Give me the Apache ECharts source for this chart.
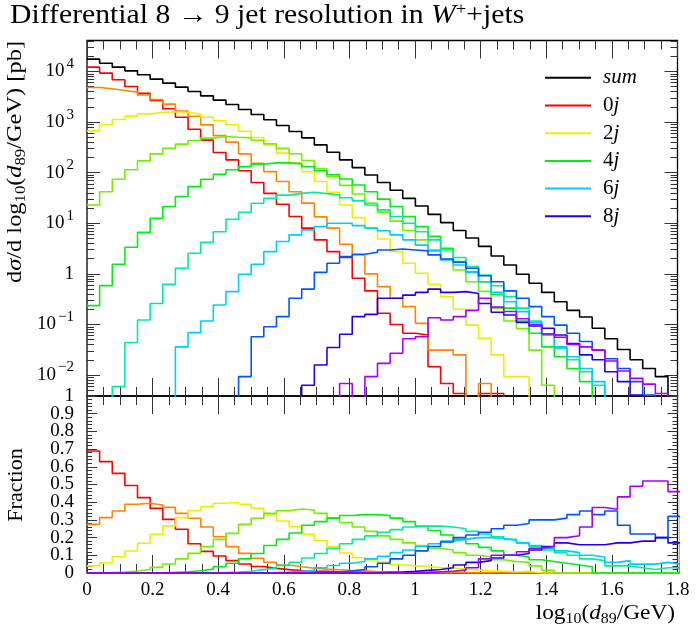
<!DOCTYPE html>
<html>
<head>
<meta charset="utf-8">
<script src="https://cdn.jsdelivr.net/npm/echarts@6/dist/echarts.min.js"></script>
<style>
  html, body { margin: 0; padding: 0; background: #fff; }
  #chart { width: 700px; height: 632px; }
</style>
</head>
<body>
<div id="chart"></div>
<script>
// bin edges in log10(d89/GeV)
const binEdges = [0, 0.0385, 0.077, 0.1155, 0.154, 0.1925, 0.231, 0.2695, 0.308, 0.3465,
  0.385, 0.4235, 0.462, 0.5005, 0.539, 0.5775, 0.616, 0.6545, 0.693, 0.7315,
  0.77, 0.8085, 0.847, 0.8855, 0.924, 0.9625, 1.001, 1.0395, 1.078, 1.1165,
  1.155, 1.1935, 1.232, 1.2705, 1.309, 1.3475, 1.386, 1.4245, 1.463, 1.5015,
  1.54, 1.5785, 1.617, 1.6555, 1.694, 1.7325, 1.771, 1.8095];

// dsigma/dlog10(d89) [pb]
const xsSum = [17600, 14600, 12200, 10300, 8610, 7060, 5890, 4910, 4030, 3300,
  2720, 2230, 1770, 1410, 1110, 855, 652, 488, 355, 254,
  179, 126, 90, 64, 45, 31, 22, 15, 10.3, 7.2,
  5.1, 3.5, 2.26, 1.5, 0.98, 0.65, 0.43, 0.28, 0.19, 0.14,
  0.084, 0.052, 0.032, 0.020, 0.0135, 0.0093, 0.003];
const xs0j = [12200, 9290, 6850, 5060, 3700, 2670, 1830, 1250, 720, 440,
  250, 179, 109, 64, 39, 23.8, 13.6, 8.0, 4.7, 2.75,
  2.1, 0.82, 0.46, 0.166, 0.10, 0.067, 0.062, 0.0146, 0.0068, 0.0043,
  0, 0.0043, 0.0043, 0, 0, 0, 0, 0, 0, 0,
  0, 0, 0, 0, 0, 0, 0];
const xs1j = [4830, 4550, 4220, 3910, 3420, 2800, 2260, 1650, 1300, 880,
  540, 401, 235, 154, 105, 67, 42, 25, 13.4, 8.0,
  3.85, 2.37, 1.0, 0.56, 0.33, 0.225, 0.105, 0.031, 0.031, 0.025,
  0, 0.0068, 0, 0, 0, 0, 0, 0, 0, 0,
  0, 0, 0, 0, 0, 0, 0];
const xs2j = [671, 896, 1125, 1309, 1455, 1549, 1596, 1570, 1435, 1250,
  1060, 883, 661, 495, 355, 243, 159, 104, 66.7, 41,
  23, 12.9, 8.2, 4.9, 2.75, 1.62, 1.03, 0.62, 0.355, 0.20,
  0.097, 0.053, 0.025, 0.0093, 0.0093, 0, 0, 0, 0, 0,
  0, 0, 0, 0, 0, 0, 0];
const xs3j = [23, 42, 74, 114, 171, 235, 305, 366, 432, 481,
  518, 501, 488, 437, 374, 302, 236, 174, 120, 83,
  56, 38, 25, 16.6, 11, 7.2, 4.7, 3.0, 1.95, 1.19,
  0.70, 0.45, 0.21, 0.117, 0.083, 0.031, 0.0063, 0, 0, 0,
  0, 0, 0, 0, 0, 0, 0];
const xs4j = [0.235, 0.585, 1.55, 3.36, 6.6, 12.6, 21.4, 33.7, 53, 74,
  93, 114, 132, 147, 156, 156, 149, 132, 109, 91,
  75, 57, 42, 30, 21.4, 13.6, 8.6, 5.5, 3.2, 1.75,
  1.1, 0.70, 0.39, 0.21, 0.117, 0.067, 0.036, 0.023, 0.0135, 0.0074,
  0, 0, 0, 0, 0, 0, 0];
const xs5j = [0, 0, 0.0059, 0.044, 0.122, 0.26, 0.62, 1.29, 2.55, 4.2,
  6.8, 12.0, 16.5, 24.9, 31, 36, 39, 41, 38.6, 36.4,
  32, 27.7, 23, 18.4, 13.6, 10, 6.8, 4.7, 2.97, 2.1,
  1.39, 0.95, 0.58, 0.355, 0.21, 0.117, 0.062, 0.034, 0.020, 0.0116,
  0.0063, 0, 0, 0, 0, 0, 0];
const xs6j = [0, 0, 0, 0, 0, 0, 0, 0.036, 0.069, 0.117,
  0.243, 0.445, 0.98, 1.55, 2.75, 4.35, 5.9, 7.4, 8.6, 10,
  10, 9.0, 8.0, 7.1, 5.9, 4.7, 3.7, 2.84, 1.88, 1.5,
  1.07, 0.70, 0.43, 0.28, 0.179, 0.11, 0.062, 0.036, 0.023, 0.0135,
  0.0074, 0, 0, 0, 0, 0, 0];
const xs7j = [0, 0, 0, 0, 0, 0, 0, 0, 0, 0,
  0, 0, 0.0093, 0.057, 0.090, 0.143, 0.33, 0.50, 1.07, 1.62,
  2.19, 2.44, 2.67, 2.97, 3.11, 2.97, 2.84, 2.37, 1.97, 1.69,
  1.29, 0.92, 0.70, 0.46, 0.33, 0.225, 0.143, 0.097, 0.067, 0.046,
  0.031, 0.021, 0.0135, 0.0074, 0.004, 0.003, 0.001];
const xs8j = [0, 0, 0, 0, 0, 0, 0, 0, 0, 0,
  0, 0, 0, 0, 0, 0, 0, 0.0063, 0.0158, 0.035,
  0.064, 0.143, 0.158, 0.33, 0.33, 0.38, 0.43, 0.50, 0.43, 0.445,
  0.41, 0.26, 0.174, 0.154, 0.110, 0.093, 0.084, 0.062, 0.042, 0.025,
  0.020, 0.0116, 0.0074, 0.004, 0.0023, 0.0016, 0.0005];
const xs9j = [0, 0, 0, 0, 0, 0, 0, 0, 0, 0,
  0, 0, 0, 0, 0, 0, 0, 0, 0, 0,
  0.0068, 0, 0.0093, 0.017, 0.027, 0.052, 0.057, 0.136, 0.122, 0.143,
  0.19, 0.33, 0.22, 0.18, 0.13, 0.10, 0.065, 0.056, 0.040, 0.036,
  0.031, 0.019, 0.012, 0.0086, 0.0066, 0.0043, 0.0011];

// fraction of the sum, per multiplicity (lower panel)
const fr0j = [0.689, 0.629, 0.563, 0.494, 0.426, 0.365, 0.303, 0.247, 0.165, 0.122,
  0.096, 0.07, 0.051, 0.037, 0.026, 0.019, 0.014, 0.011, 0.009, 0.007,
  0.006, 0.005, 0.004, 0.002, 0.002, 0.002, 0.002, 0.001, 0.001, 0.0005,
  0, 0.001, 0.0015, 0, 0, 0, 0, 0, 0, 0,
  0, 0, 0, 0, 0, 0, 0];
const fr1j = [0.275, 0.313, 0.35, 0.388, 0.394, 0.384, 0.371, 0.337, 0.309, 0.26,
  0.205, 0.149, 0.111, 0.083, 0.06, 0.045, 0.035, 0.027, 0.022, 0.018,
  0.014, 0.012, 0.008, 0.006, 0.005, 0.004, 0.003, 0.002, 0.002, 0.002,
  0, 0.0015, 0, 0, 0, 0, 0, 0, 0, 0,
  0, 0, 0, 0, 0, 0, 0];
const fr2j = [0.04, 0.058, 0.092, 0.124, 0.168, 0.219, 0.266, 0.313, 0.352, 0.375,
  0.394, 0.40, 0.388, 0.366, 0.328, 0.294, 0.262, 0.219, 0.184, 0.150,
  0.113, 0.086, 0.074, 0.060, 0.047, 0.040, 0.036, 0.031, 0.028, 0.022,
  0.016, 0.012, 0.009, 0.006, 0.009, 0, 0, 0, 0, 0,
  0, 0, 0, 0, 0, 0, 0];
const fr3j = [0.0013, 0.0028, 0.006, 0.011, 0.0195, 0.032, 0.051, 0.08, 0.111, 0.149,
  0.19, 0.224, 0.275, 0.309, 0.337, 0.352, 0.362, 0.356, 0.337, 0.31,
  0.285, 0.26, 0.235, 0.21, 0.19, 0.17, 0.155, 0.14, 0.13, 0.115,
  0.10, 0.09, 0.075, 0.065, 0.06, 0.04, 0.015, 0, 0, 0,
  0, 0, 0, 0, 0, 0, 0];
const fr4j = [0, 0, 0.0001, 0.0003, 0.0008, 0.0017, 0.0036, 0.007, 0.013, 0.022,
  0.036, 0.055, 0.08, 0.11, 0.155, 0.19, 0.226, 0.27, 0.29, 0.31,
  0.325, 0.33, 0.33, 0.325, 0.31, 0.29, 0.265, 0.24, 0.215, 0.19,
  0.165, 0.145, 0.125, 0.10, 0.09, 0.075, 0.065, 0.055, 0.045, 0.035,
  0, 0, 0, 0, 0, 0, 0];
const fr5j = [0, 0, 0, 0, 0, 0, 0.0001, 0.0003, 0.0006, 0.0013,
  0.0028, 0.0057, 0.01, 0.019, 0.029, 0.043, 0.06, 0.085, 0.11, 0.14,
  0.165, 0.19, 0.21, 0.23, 0.245, 0.26, 0.265, 0.265, 0.26, 0.25,
  0.235, 0.22, 0.205, 0.19, 0.17, 0.15, 0.13, 0.115, 0.10, 0.08,
  0.07, 0.04, 0.04, 0.03, 0.02, 0.03, 0.03];
const fr6j = [0, 0, 0, 0, 0, 0, 0, 0.0001, 0.0001, 0.0001,
  0.0001, 0.0002, 0.0006, 0.0012, 0.0026, 0.005, 0.009, 0.015, 0.03, 0.042,
  0.055, 0.065, 0.08, 0.095, 0.115, 0.13, 0.15, 0.165, 0.18, 0.19,
  0.2, 0.2, 0.195, 0.185, 0.17, 0.155, 0.14, 0.125, 0.115, 0.1,
  0.09, 0.06, 0.07, 0.05, 0.05, 0.06, 0.05];
const fr7j = [0, 0, 0, 0, 0, 0, 0, 0, 0, 0,
  0, 0, 0, 0, 0, 0.0002, 0.0005, 0.001, 0.003, 0.006,
  0.012, 0.02, 0.035, 0.055, 0.08, 0.1, 0.125, 0.15, 0.175, 0.2,
  0.215, 0.23, 0.25, 0.27, 0.28, 0.3, 0.3, 0.31, 0.33, 0.35,
  0.33, 0.35, 0.27, 0.22, 0.22, 0.2, 0.32];
const fr8j = [0, 0, 0, 0, 0, 0, 0, 0, 0, 0,
  0, 0, 0, 0, 0, 0, 0, 0, 0, 0.0001,
  0.0003, 0.001, 0.0015, 0.004, 0.006, 0.01, 0.015, 0.02, 0.03, 0.045,
  0.06, 0.07, 0.085, 0.1, 0.11, 0.13, 0.15, 0.17, 0.16, 0.16,
  0.16, 0.17, 0.17, 0.18, 0.18, 0.2, 0.17];
const fr9j = [0, 0, 0, 0, 0, 0, 0, 0, 0, 0,
  0, 0, 0, 0, 0, 0, 0, 0, 0, 0,
  0.0001, 0, 0.0001, 0.0002, 0.0005, 0.001, 0.002, 0.007, 0.01, 0.016,
  0.03, 0.08, 0.1, 0.1, 0.12, 0.14, 0.15, 0.2, 0.21, 0.26,
  0.37, 0.36, 0.43, 0.49, 0.52, 0.52, 0.46];

// tick labels of the fraction axis
const fracTickLabels = [0, 0.1, 0.2, 0.3, 0.4, 0.5, 0.6, 0.7, 0.8, 0.9, 1];

const jetNames = ['0j', '1j', '2j', '3j', '4j', '5j', '6j', '7j', '8j', '9j'];
const jetXS = [xs0j, xs1j, xs2j, xs3j, xs4j, xs5j, xs6j, xs7j, xs8j, xs9j];
const jetFrac = [fr0j, fr1j, fr2j, fr3j, fr4j, fr5j, fr6j, fr7j, fr8j, fr9j];
const jetColors = ['#ff0000', '#ff8400', '#eeee00', '#73f000', '#00ee11',
  '#00ee95', '#00ccff', '#0055ff', '#2200ee', '#a600ff'];
const legendNames = ['sum', '0j', '2j', '4j', '6j', '8j'];

const Y_MIN = 0.00385, Y_MAX = 41000;
const LOG_MIN = Math.log10(Y_MIN), LOG_MAX = Math.log10(Y_MAX);
const majorExp = [-2, -1, 0, 1, 2, 3, 4];
const minorExp = [];
for (let n = -3; n <= 4; n++) {
  for (let k = 2; k <= 9; k++) {
    const e = Math.log10(k) + n;
    if (e > LOG_MIN && e < LOG_MAX) minorExp.push(e);
  }
}

const serif = '"Liberation Serif", "DejaVu Serif", serif';

function histPoints(vals, floor) {
  const n = vals.length;
  const pts = vals.map((v, i) => [binEdges[i], v > 0 ? v : floor]);
  pts.push([binEdges[n], vals[n - 1] > 0 ? vals[n - 1] : floor]);
  pts.push([binEdges[n], floor]);
  return pts;
}

function histLine(name, color, data, xi, yi) {
  return {
    type: 'line', name: name, xAxisIndex: xi, yAxisIndex: yi,
    data: data, step: 'end', symbol: 'none', showSymbol: false,
    color: color, lineStyle: { color: color, width: 1.6 },
    itemStyle: { color: color }, clip: true, silent: true
  };
}

const FLOOR = 1e-5;
const series = [histLine('sum', '#000000', histPoints(xsSum, FLOOR), 0, 0)];
jetXS.forEach((a, k) => series.push(histLine(jetNames[k], jetColors[k], histPoints(a, FLOOR), 0, 0)));
jetFrac.forEach((a, k) => series.push(histLine(jetNames[k], jetColors[k], histPoints(a, 0), 2, 5)));

const tickStyle = { color: '#333', width: 1 };

function xAxisFor(grid, pos, labels) {
  return {
    type: 'value', gridIndex: grid, position: pos, min: 0, max: 1.8, interval: 0.2,
    axisLine: { show: false, onZero: false },
    axisTick: { inside: true, length: 18, lineStyle: tickStyle },
    minorTick: { show: true, splitNumber: 4, length: 9, lineStyle: tickStyle },
    splitLine: { show: false },
    axisLabel: labels ? {
      margin: 8, color: '#000', fontFamily: serif, fontSize: 19,
      showMinLabel: true, showMaxLabel: true,
      formatter: v => String(+v.toFixed(1))
    } : { show: false }
  };
}

function expAxis(pos, values, len, labels) {
  return {
    type: 'value', gridIndex: 0, position: pos, min: LOG_MIN, max: LOG_MAX,
    axisLine: { show: false, onZero: false }, splitLine: { show: false },
    axisTick: { inside: true, length: len, customValues: values, lineStyle: tickStyle },
    axisLabel: labels ? {
      customValues: values, margin: 13, color: '#000',
      formatter: v => Math.round(v) === 0 ? '{b|1}' : '{b|10}{s|' + String(Math.round(v)).replace('-', '\u2212') + '}',
      rich: {
        b: { fontFamily: serif, fontSize: 19, color: '#000', lineHeight: 30 },
        s: { fontFamily: serif, fontSize: 15, color: '#000', verticalAlign: 'top', lineHeight: 15, padding: [0, 0, 0, 2] }
      }
    } : { show: false }
  };
}

function fracAxis(pos) {
  return {
    type: 'value', gridIndex: 1, position: pos, min: 0, max: 1, interval: 0.1,
    axisLine: { show: false, onZero: false }, splitLine: { show: false },
    axisTick: { inside: true, length: 10, lineStyle: tickStyle },
    minorTick: { show: true, splitNumber: 5, length: 5, lineStyle: tickStyle },
    axisLabel: { show: false }
  };
}

const option = {
  animation: false,
  backgroundColor: '#fff',
  grid: [
    { left: 87, top: 40.5, width: 590.5, height: 355.5, show: true, borderColor: '#000', borderWidth: 1.3, backgroundColor: 'transparent' },
    { left: 87, top: 396, width: 590.5, height: 177, show: true, borderColor: '#000', borderWidth: 1.3, backgroundColor: 'transparent' }
  ],
  xAxis: [
    xAxisFor(0, 'bottom', false),
    xAxisFor(0, 'top', false),
    xAxisFor(1, 'bottom', true),
    xAxisFor(1, 'top', false)
  ],
  yAxis: [
    { type: 'log', gridIndex: 0, min: Y_MIN, max: Y_MAX, logBase: 10,
      axisLine: { show: false, onZero: false }, axisTick: { show: false }, axisLabel: { show: false }, splitLine: { show: false } },
    expAxis('left', majorExp, 13, true),
    expAxis('left', minorExp, 7, false),
    expAxis('right', majorExp, 13, false),
    expAxis('right', minorExp, 7, false),
    fracAxis('left'),
    fracAxis('right')
  ],
  legend: {
    data: legendNames, orient: 'vertical', left: 545, top: 67.3, padding: 0,
    itemGap: 6.7, itemWidth: 46, itemHeight: 2, icon: 'rect',
    selectedMode: false,
    formatter: name => name === 'sum' ? '{i|sum}' : '{n|' + name.charAt(0) + '}{i|j}',
    textStyle: {
      padding: [0, 0, 0, 7], fontFamily: serif, fontSize: 21, lineHeight: 20, color: '#000',
      rich: {
        n: { fontFamily: serif, fontSize: 21, lineHeight: 20, color: '#000' },
        i: { fontFamily: serif, fontSize: 21, lineHeight: 20, fontStyle: 'italic', color: '#000' }
      }
    }
  },
  graphic: [
    { id: 'title', type: 'text', x: 10, y: 16, scaleX: 1.1, silent: true,
      style: { text: 'Differential 8 \u2192 9 jet resolution in {i|W}{s|+}+jets', fontFamily: serif, fontSize: 27,
        fill: '#000', verticalAlign: 'middle',
        rich: {
          i: { fontFamily: serif, fontSize: 27, fontStyle: 'italic', lineHeight: 30 },
          s: { fontFamily: serif, fontSize: 17, verticalAlign: 'top', lineHeight: 17 }
        } } },
    { id: 'ytitle', type: 'text', x: 15, y: 162, rotation: Math.PI / 2, scaleX: 1.11, silent: true,
      style: { text: 'd{i|\u03c3}/d log{b|10}({i|d}{b|89}/GeV) [pb]', fontFamily: serif, fontSize: 22, fill: '#000',
        align: 'center', verticalAlign: 'middle',
        rich: {
          i: { fontFamily: serif, fontSize: 22, fontStyle: 'italic', lineHeight: 28 },
          b: { fontFamily: serif, fontSize: 15, verticalAlign: 'bottom', lineHeight: 12 }
        } } },
    { id: 'ftitle', type: 'text', x: 16, y: 485, rotation: Math.PI / 2, silent: true,
      style: { text: 'Fraction', fontFamily: serif, fontSize: 22, fill: '#000', align: 'center', verticalAlign: 'middle' } },
    { id: 'xtitle', type: 'text', x: 675, y: 613, scaleX: 1.06, silent: true,
      style: { text: 'log{b|10}({i|d}{b|89}/GeV)', fontFamily: serif, fontSize: 22, fill: '#000',
        align: 'right', verticalAlign: 'middle',
        rich: {
          i: { fontFamily: serif, fontSize: 22, fontStyle: 'italic', lineHeight: 28 },
          b: { fontFamily: serif, fontSize: 15, verticalAlign: 'bottom', lineHeight: 12 }
        } } }
  ],
  series: series
};

const chart = echarts.init(document.getElementById('chart'), null, { renderer: 'canvas' });
chart.setOption(option);

// fraction axis labels, placed through the axis scale (avoids auto-hiding of close labels)
const labelX = chart.convertToPixel({ xAxisIndex: 2 }, 0) - 13;
chart.setOption({
  graphic: fracTickLabels.map((v, i) => ({
    id: 'fracLabel' + i, type: 'text', silent: true,
    x: labelX, y: chart.convertToPixel({ yAxisIndex: 5 }, v),
    style: { text: String(v), fontFamily: serif, fontSize: 19, fill: '#000', align: 'right', verticalAlign: 'middle' }
  }))
});
</script>
</body>
</html>
